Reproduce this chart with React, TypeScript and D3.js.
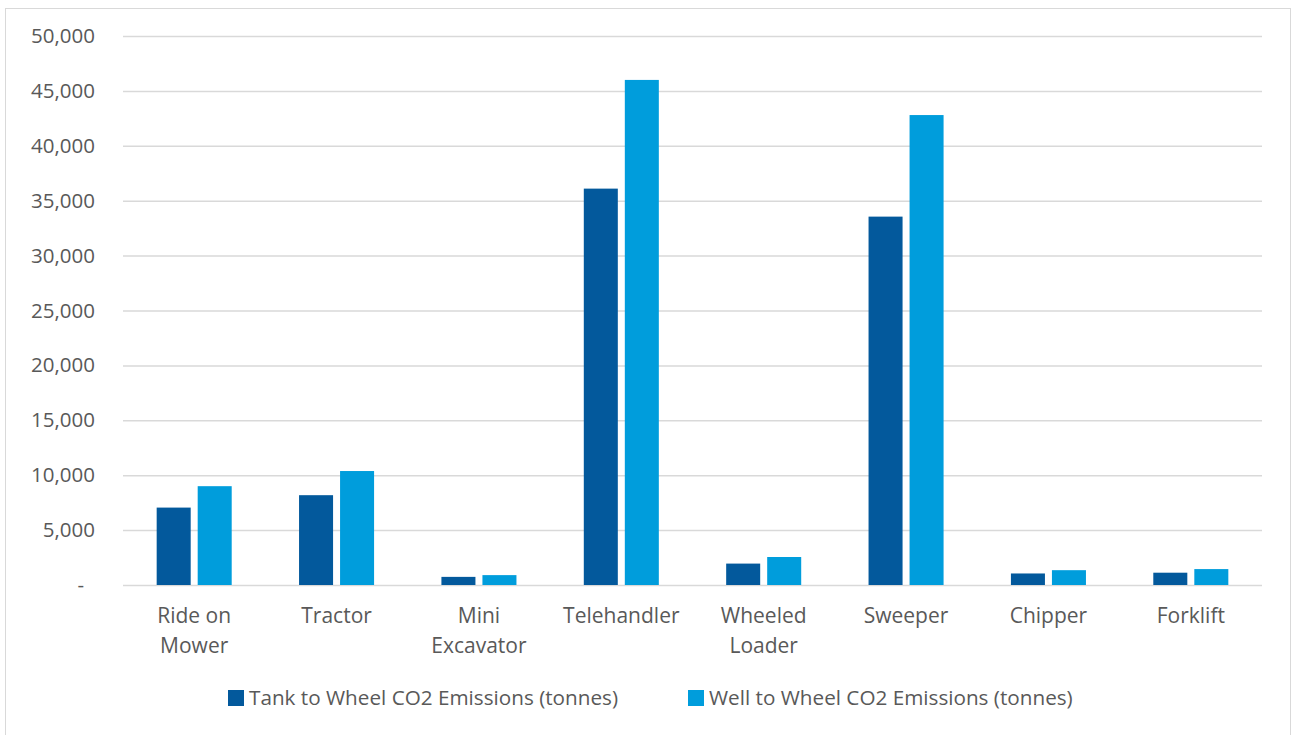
import { useRef, useEffect } from 'react';
import * as d3 from 'd3';

// Chart data
const categories = [
  ["Ride on", "Mower"],
  ["Tractor"],
  ["Mini", "Excavator"],
  ["Telehandler"],
  ["Wheeled", "Loader"],
  ["Sweeper"],
  ["Chipper"],
  ["Forklift"]
];
const seriesNames = [
  "Tank to Wheel CO2 Emissions (tonnes)",
  "Well to Wheel CO2 Emissions (tonnes)"
];
const tankToWheel = [7050, 8180, 740, 36100, 1950, 33550, 1050, 1120];
const wellToWheel = [9000, 10380, 900, 46000, 2550, 42800, 1350, 1450];
const yTicks = [0, 5000, 10000, 15000, 20000, 25000, 30000, 35000, 40000, 45000, 50000];

const colors = ["#03599c", "#009ddc"];
const font = "'Open Sans', sans-serif";
const textColor = "#595959";

export default function App() {
  const svgRef = useRef<SVGSVGElement>(null);

  useEffect(() => {
    if (!svgRef.current) return;
    const width = 1292;
    const height = 735;
    const margin = { top: 36, right: 30, bottom: 150, left: 123 };

    const svg = d3.select(svgRef.current)
      .attr('width', width)
      .attr('height', height);
    svg.selectAll("*").remove();

    // Chart frame
    svg.append("rect")
      .attr("x", 5.5)
      .attr("y", 8.5)
      .attr("width", 1285)
      .attr("height", 740)
      .attr("fill", "#fff")
      .attr("stroke", "#d9d9d9");

    const keys = categories.map(c => c.join(" "));
    const x0 = d3.scaleBand()
      .domain(keys)
      .range([margin.left, width - margin.right])
      .paddingInner(0.473)
      .paddingOuter(0.2365);

    const x1 = d3.scaleBand()
      .domain(seriesNames)
      .range([0, x0.bandwidth()])
      .paddingInner(7 / 41);

    const y = d3.scaleLinear()
      .domain([0, 50000])
      .range([585, margin.top]);

    // Gridlines + y labels
    const yAxis = svg.append("g")
      .attr("transform", `translate(${margin.left},0)`)
      .call(d3.axisLeft(y)
        .tickValues(yTicks)
        .tickSize(-(width - margin.right - margin.left))
        .tickPadding(28)
        .tickFormat(d => (+d === 0 ? "-" : d3.format(",")(+d))));
    yAxis.select(".domain").remove();
    yAxis.selectAll(".tick line")
      .attr("stroke", "#d9d9d9")
      .attr("stroke-width", 1.5);
    yAxis.selectAll(".tick text")
      .attr("fill", textColor)
      .style("font-family", font)
      .style("font-size", "20.5px")
      .attr("x", (d: any) => (+d === 0 ? -39 : -28));

    // Bars
    const rows = keys.map((k, i) => ({ key: k, values: [tankToWheel[i], wellToWheel[i]] }));
    const groups = svg.append("g")
      .selectAll("g")
      .data(rows)
      .join("g")
      .attr("transform", d => `translate(${x0(d.key)},0)`);

    groups.selectAll("rect")
      .data(d => d.values.map((v, j) => ({ name: seriesNames[j], value: v, j })))
      .join("rect")
      .attr("x", d => x1(d.name)!)
      .attr("y", d => y(d.value))
      .attr("width", x1.bandwidth())
      .attr("height", d => y(0) - y(d.value))
      .attr("fill", d => colors[d.j]);

    // Category labels
    const labels = svg.append("g")
      .selectAll("text")
      .data(categories)
      .join("text")
      .attr("x", (d, i) => x0(keys[i])! + x0.bandwidth() / 2)
      .attr("y", 623)
      .attr("text-anchor", "middle")
      .attr("fill", textColor)
      .style("font-family", font)
      .style("font-size", "21px");
    labels.selectAll("tspan")
      .data(d => d)
      .join("tspan")
      .attr("x", function () { return (this.parentNode as SVGTextElement).getAttribute("x"); })
      .attr("dy", (d, i) => (i === 0 ? 0 : 30))
      .text(d => d);

    // Legend
    const legendX = [228, 688];
    const legend = svg.append("g")
      .selectAll("g")
      .data(seriesNames)
      .join("g")
      .attr("transform", (d, i) => `translate(${legendX[i]},690)`);
    legend.append("rect")
      .attr("width", 16)
      .attr("height", 16)
      .attr("fill", (d, i) => colors[i]);
    legend.append("text")
      .attr("x", 21)
      .attr("y", 15)
      .attr("fill", textColor)
      .style("font-family", font)
      .style("font-size", "20.7px")
      .text(d => d);
  }, []);

  return (
    <svg ref={svgRef} style={{ position: 'absolute', left: 0, top: 0, background: '#fff' }}></svg>
  );
}
